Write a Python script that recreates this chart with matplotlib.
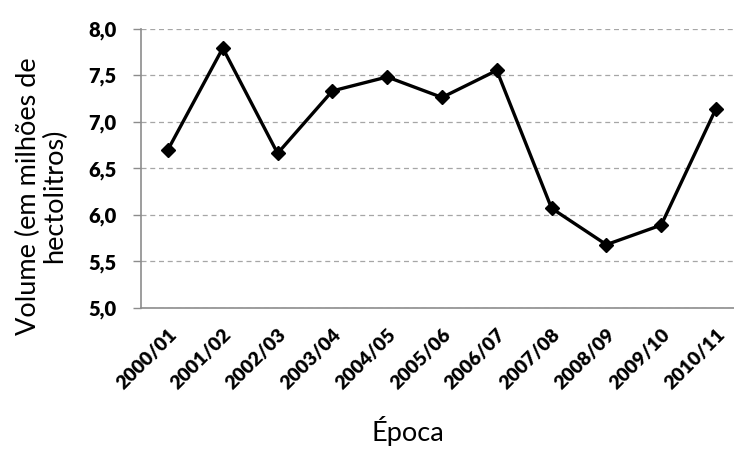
import matplotlib
matplotlib.use('Agg')
import matplotlib.pyplot as plt
import matplotlib.transforms as mtransforms
from matplotlib.ticker import FuncFormatter

# Dados
epocas = ['2000/01', '2001/02', '2002/03', '2003/04', '2004/05', '2005/06',
          '2006/07', '2007/08', '2008/09', '2009/10', '2010/11']
volume = [6.70, 7.79, 6.66, 7.33, 7.48, 7.26, 7.55, 6.07, 5.68, 5.89, 7.14]
yticks = [5.0, 5.5, 6.0, 6.5, 7.0, 7.5, 8.0]

plt.rcParams['font.family'] = ['Lato', 'DejaVu Sans']

fig = plt.figure(figsize=(7.34, 4.49), dpi=100)
ax = fig.add_axes([140.6 / 734, 1 - 308 / 449, 602.8 / 734, 279.5 / 449])

x = list(range(len(epocas)))
ax.plot(x, volume, color='black', linewidth=2.4, marker='D', markersize=7.2,
        markerfacecolor='black', markeredgecolor='black')

ax.set_xlim(-0.5, len(epocas) - 0.5)
ax.set_ylim(5.0, 8.0)
ax.set_yticks(yticks)
ax.yaxis.set_major_formatter(FuncFormatter(lambda v, p: f'{v:.1f}'.replace('.', ',')))
ax.set_xticks(x)
ax.set_xticklabels(epocas, rotation=45, ha='right', va='top',
                   rotation_mode='anchor', fontweight=800, fontsize=14)
desloc = mtransforms.ScaledTranslation(5 / 100, 0, fig.dpi_scale_trans)
for lab in ax.get_xticklabels():
    lab.set_transform(lab.get_transform() + desloc)
for lab in ax.get_yticklabels():
    lab.set_fontweight(800)
    lab.set_fontsize(14.5)

ax.tick_params(axis='x', length=0, pad=13)
ax.tick_params(axis='y', length=5.5, width=1, color='#8c8c8c', pad=12)

ax.grid(axis='y', linestyle=(0, (4, 3)), color='#a6a6a6', linewidth=0.9)
ax.set_axisbelow(True)
for s in ['top', 'right']:
    ax.spines[s].set_visible(False)
for s in ['left', 'bottom']:
    ax.spines[s].set_color('#8c8c8c')
    ax.spines[s].set_linewidth(1.2)

fig.text(42 / 734, 1 - 196 / 449, 'Volume (em milhões de\nhectolitros)',
         rotation=90, ha='center', va='center', multialignment='center',
         fontsize=19.5, linespacing=1.05)
fig.text(408 / 734, 1 - 441 / 449, 'Época', ha='center', va='baseline',
         fontsize=19.5)

fig.savefig('out.png', dpi=100)
